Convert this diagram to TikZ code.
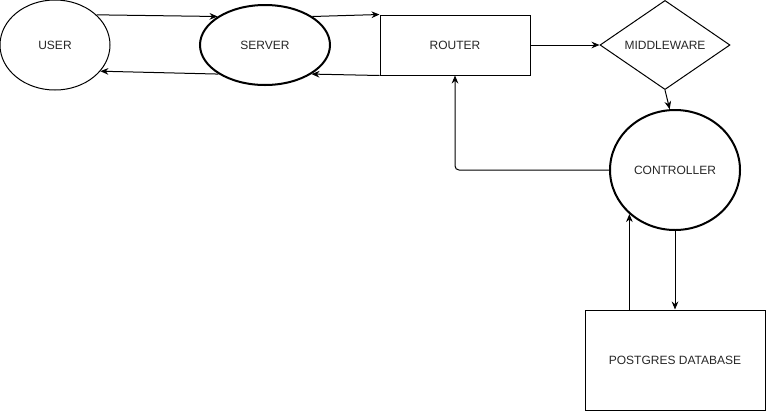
\documentclass[tikz,border=0pt]{standalone}
\usepackage{fontspec}
\setmainfont{Liberation Sans}
\usetikzlibrary{positioning}
\usetikzlibrary{shapes.geometric}
\usetikzlibrary{arrows.meta}
\usetikzlibrary{calc}

\begin{document}
\begin{tikzpicture}[x=0.75pt, y=-0.75pt, line width=0.75pt,
	every node/.style={font=\fontsize{9}{11}\selectfont, text=black!85},
	flow/.style={-{Stealth[length=6pt, width=5pt]}, line width=0.75pt}]
			% Keep the page as large as the reference
			\useasboundingbox (0,0) rectangle (767,411);

			% Place each part of the request chain
			\draw (55,45) node[ellipse, draw, minimum width=82.5pt, minimum height=67.5pt] (user) {USER};
			\draw (265,45) node[ellipse, draw, line width=1.5pt, minimum width=97.5pt, minimum height=60pt] (server) {SERVER};
			\draw (455,45) node[rectangle, draw, minimum width=112.5pt, minimum height=45pt] (router) {ROUTER};
			\draw (665,45) node[diamond, draw, inner sep=0pt, minimum width=97.5pt, minimum height=60pt] (middleware) {MIDDLEWARE};
			\draw (675,170) node[ellipse, draw, line width=1.5pt, minimum width=97.5pt, minimum height=90pt] (controller) {CONTROLLER};
			\draw (675,360) node[rectangle, draw, minimum width=135pt, minimum height=75pt] (database) {POSTGRES DATABASE};

			% Requests and answers between the parts
			\draw[flow] (user.36) -- (server.149);
			\draw[flow] (server.212) -- (user.330);
			\draw[flow] (server.31) -- (router.north west);
			\draw[flow] (router.south west) -- (server.328);
			\draw[flow] (router.east) -- (middleware.west);
			\draw[flow] (middleware.south) -- (controller.95);
			\draw[flow, rounded corners=3pt] (controller.west) -| (router.south);
			\draw[flow] (controller.south) -- (controller.south |- database.north);
			\draw[flow] (database.north -| controller.224) -- (controller.224);
		\end{tikzpicture}
\end{document}
